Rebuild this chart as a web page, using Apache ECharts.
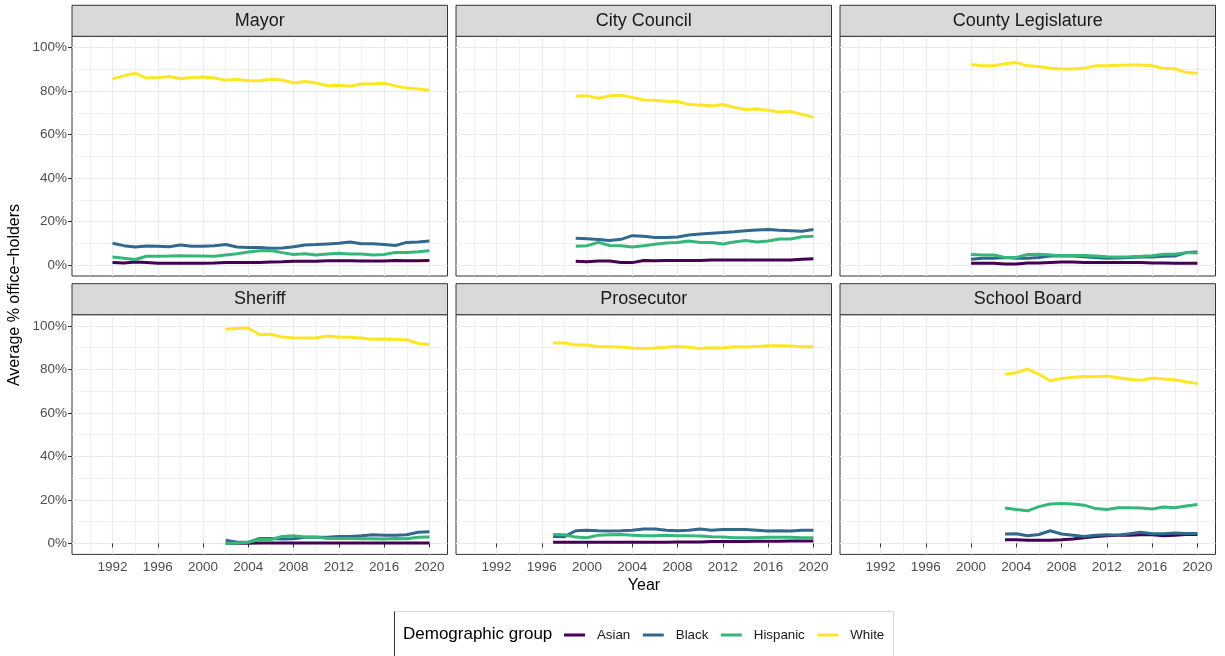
<!DOCTYPE html>
<html>
<head>
<meta charset="utf-8">
<title>Average % office-holders by demographic group</title>
<script src="https://cdn.jsdelivr.net/npm/echarts@6/dist/echarts.min.js"></script>
<style>
  html, body { margin: 0; padding: 0; background: #ffffff; }
  #chart { width: 1225px; height: 656px; }
</style>
</head>
<body>
<div id="chart"></div>
<script>
// ---- Data: average share of office-holders (%) by year ----
const offices = ['Mayor', 'City Council', 'County Legislature', 'Sheriff', 'Prosecutor', 'School Board'];
const groups = ['Asian', 'Black', 'Hispanic', 'White'];
const firstYear = { 'Mayor': 1992, 'City Council': 1999, 'County Legislature': 2000, 'Sheriff': 2002, 'Prosecutor': 1997, 'School Board': 2003 };
const lastYear = 2020;

const mayorAsian    = [1.1, 0.9, 1.4, 1.1, 0.8, 0.8, 0.8, 0.8, 0.8, 0.9, 1.1, 1.1, 1.1, 1.2, 1.4, 1.5, 1.7, 1.7, 1.7, 2.0, 2.0, 2.0, 1.8, 1.8, 1.8, 2.1, 2.0, 2.0, 2.1];
const mayorBlack    = [10.0, 8.9, 8.3, 8.7, 8.6, 8.4, 9.2, 8.6, 8.6, 8.9, 9.4, 8.3, 8.1, 8.0, 7.7, 7.8, 8.4, 9.2, 9.4, 9.7, 10.0, 10.6, 9.8, 9.8, 9.4, 9.0, 10.4, 10.6, 11.0];
const mayorHispanic = [3.7, 3.1, 2.5, 4.0, 4.0, 4.1, 4.3, 4.1, 4.1, 4.0, 4.6, 5.2, 6.0, 6.6, 6.7, 5.7, 4.8, 5.2, 4.6, 5.1, 5.4, 5.1, 5.1, 4.6, 4.8, 5.8, 5.7, 6.1, 6.6];
const mayorWhite    = [85.6, 87.0, 88.2, 86.0, 86.3, 86.7, 85.7, 86.3, 86.5, 86.0, 85.0, 85.4, 84.7, 84.8, 85.4, 85.1, 83.7, 84.4, 83.7, 82.5, 82.7, 82.2, 83.3, 83.4, 83.6, 82.4, 81.4, 81.0, 80.4];

const councilAsian    = [1.7, 1.5, 1.8, 1.8, 1.1, 1.1, 2.1, 2.0, 2.1, 2.1, 2.1, 2.1, 2.3, 2.3, 2.3, 2.3, 2.3, 2.3, 2.3, 2.3, 2.6, 2.9];
const councilBlack    = [12.3, 12.1, 11.7, 11.3, 11.8, 13.5, 13.2, 12.7, 12.6, 12.9, 13.8, 14.3, 14.6, 14.9, 15.3, 15.8, 16.1, 16.3, 16.0, 15.8, 15.5, 16.3];
const councilHispanic = [8.6, 8.9, 10.4, 9.0, 8.9, 8.3, 8.9, 9.5, 10.1, 10.4, 11.0, 10.4, 10.4, 9.7, 10.6, 11.3, 10.6, 11.0, 12.0, 12.0, 13.0, 13.2];
const councilWhite    = [77.6, 77.9, 76.7, 77.8, 78.1, 77.1, 75.9, 75.8, 75.3, 75.2, 73.8, 73.6, 73.2, 73.8, 72.5, 71.5, 71.8, 71.2, 70.4, 70.6, 69.3, 67.9];

const countyAsian    = [0.8, 0.8, 0.8, 0.5, 0.5, 0.9, 0.9, 1.2, 1.4, 1.4, 1.2, 1.1, 1.1, 1.1, 1.1, 1.1, 0.9, 0.9, 0.8, 0.8, 0.8];
const countyBlack    = [2.6, 3.1, 3.1, 3.5, 3.1, 3.1, 3.4, 4.1, 4.3, 4.1, 3.8, 3.5, 3.1, 3.2, 3.5, 3.7, 3.7, 4.0, 4.1, 5.7, 6.0];
const countyHispanic = [4.8, 4.6, 4.6, 3.5, 3.5, 4.8, 4.9, 4.6, 4.3, 4.4, 4.4, 4.1, 3.8, 3.7, 3.8, 4.0, 4.3, 4.9, 4.9, 5.7, 5.5];
const countyWhite    = [92.2, 91.7, 91.7, 92.6, 93.1, 91.6, 91.3, 90.5, 90.2, 90.2, 90.5, 91.6, 91.6, 91.9, 92.0, 92.0, 91.6, 90.5, 90.3, 88.5, 88.2];

const sheriffAsian    = [0.1, 0.1, 0.1, 0.2, 0.2, 0.2, 0.2, 0.2, 0.2, 0.2, 0.2, 0.2, 0.2, 0.2, 0.2, 0.2, 0.2, 0.2, 0.2];
const sheriffBlack    = [1.5, 0.5, 0.5, 2.3, 2.3, 2.0, 2.1, 2.8, 2.8, 2.8, 3.2, 3.2, 3.5, 4.0, 3.8, 3.7, 4.0, 5.1, 5.4];
const sheriffHispanic = [0.0, 0.2, 0.5, 1.8, 1.8, 3.2, 3.5, 2.9, 2.9, 2.3, 2.3, 2.3, 2.1, 2.1, 2.0, 2.3, 2.1, 2.8, 2.9];
const sheriffWhite    = [98.5, 98.9, 99.1, 96.0, 96.2, 94.9, 94.6, 94.5, 94.6, 95.4, 94.9, 94.8, 94.5, 93.9, 94.0, 93.9, 93.7, 92.0, 91.4];

const prosecutorAsian    = [0.5, 0.5, 0.5, 0.5, 0.5, 0.5, 0.5, 0.5, 0.5, 0.5, 0.5, 0.6, 0.6, 0.6, 0.9, 0.9, 0.9, 0.9, 1.0, 1.0, 1.0, 1.1, 1.1, 1.1];
const prosecutorBlack    = [3.2, 3.1, 5.8, 6.1, 5.8, 5.7, 5.8, 6.1, 6.6, 6.6, 6.1, 5.8, 6.0, 6.6, 6.1, 6.4, 6.4, 6.4, 6.1, 5.7, 5.8, 5.7, 6.1, 6.1];
const prosecutorHispanic = [4.1, 4.0, 2.9, 2.6, 3.8, 4.0, 4.1, 3.8, 3.5, 3.5, 3.7, 3.5, 3.5, 3.4, 3.1, 2.9, 2.6, 2.6, 2.6, 2.8, 2.8, 2.8, 2.6, 2.6];
const prosecutorWhite    = [92.2, 92.2, 91.3, 91.3, 90.5, 90.5, 90.3, 89.9, 89.7, 89.9, 90.2, 90.6, 90.2, 89.6, 90.0, 89.9, 90.5, 90.3, 90.6, 90.9, 90.9, 90.8, 90.5, 90.5];

const schoolAsian    = [1.7, 1.7, 1.5, 1.4, 1.5, 1.7, 2.0, 2.6, 3.2, 3.5, 3.7, 3.8, 4.0, 4.0, 3.5, 3.7, 4.1, 4.1];
const schoolBlack    = [4.3, 4.4, 3.5, 4.1, 5.8, 4.3, 3.8, 3.2, 3.8, 4.0, 3.8, 4.4, 5.1, 4.4, 4.4, 4.8, 4.6, 4.6];
const schoolHispanic = [16.3, 15.6, 15.0, 16.9, 18.1, 18.4, 18.1, 17.6, 16.0, 15.6, 16.4, 16.4, 16.3, 15.8, 16.7, 16.4, 17.2, 17.9];
const schoolWhite    = [77.8, 78.5, 80.2, 77.8, 74.8, 75.9, 76.4, 76.8, 76.7, 77.0, 76.2, 75.5, 75.0, 76.1, 75.6, 75.3, 74.4, 73.6];

const xTickLabels = [1992, 1996, 2000, 2004, 2008, 2012, 2016, 2020];
const xMinorBreaks = [1990, 1994, 1998, 2002, 2006, 2010, 2014, 2018];
const yTickLabels = [0, 20, 40, 60, 80, 100];
const yMinorBreaks = [10, 30, 50, 70, 90];

const seriesByOffice = {
  'Mayor':              [mayorAsian, mayorBlack, mayorHispanic, mayorWhite],
  'City Council':       [councilAsian, councilBlack, councilHispanic, councilWhite],
  'County Legislature': [countyAsian, countyBlack, countyHispanic, countyWhite],
  'Sheriff':            [sheriffAsian, sheriffBlack, sheriffHispanic, sheriffWhite],
  'Prosecutor':         [prosecutorAsian, prosecutorBlack, prosecutorHispanic, prosecutorWhite],
  'School Board':       [schoolAsian, schoolBlack, schoolHispanic, schoolWhite]
};

// viridis palette, one colour per group
const groupColors = ['#440154', '#31688E', '#35B779', '#FDE725'];

// ---- Facet layout (3 columns x 2 rows) ----
const colLeft = [72, 456, 840];
const panelWidth = 375.5;
const rowTop = [36.3, 314.7];
const panelHeight = 239.7;
const stripHeight = 31;
const xRange = [1988.42, 2021.6];
const yRange = [-5.06, 105.2];

const textColor = '#4D4D4D';
const borderColor = '#333333';
const gridColor = '#EBEBEB';
const fontFamily = '"Liberation Sans", Arial, sans-serif';

const grids = [], xAxes = [], yAxes = [], series = [], graphics = [];

offices.forEach((office, i) => {
  const col = i % 3, row = Math.floor(i / 3);
  const left = colLeft[col], top = rowTop[row];
  grids.push({ left: left, top: top, width: panelWidth, height: panelHeight,
               show: true, borderColor: borderColor, borderWidth: 1, backgroundColor: 'transparent', containLabel: false });

  const showX = row === 1, showY = col === 0;

  // major x breaks: labels, ticks and grid lines
  xAxes.push({
    type: 'value', gridIndex: i, min: xRange[0], max: xRange[1], z: 1,
    axisLine: { show: false },
    axisTick: { show: showX, length: 4, lineStyle: { color: borderColor, width: 1 }, customValues: xTickLabels },
    axisLabel: { show: showX, customValues: xTickLabels, color: textColor, fontSize: 13.5, fontFamily: fontFamily, margin: 6, formatter: v => String(v) },
    splitLine: { show: true, lineStyle: { color: gridColor, width: 1.2 } }
  });
  // minor x breaks: grid lines only
  xAxes.push({
    type: 'value', gridIndex: i, min: xRange[0], max: xRange[1], z: 0,
    axisLine: { show: false },
    axisTick: { show: false, customValues: xMinorBreaks },
    axisLabel: { show: false, customValues: xMinorBreaks },
    splitLine: { show: true, lineStyle: { color: gridColor, width: 0.7 } }
  });
  // major y breaks
  yAxes.push({
    type: 'value', gridIndex: i, min: yRange[0], max: yRange[1], z: 1,
    axisLine: { show: false },
    axisTick: { show: showY, length: 4, lineStyle: { color: borderColor, width: 1 }, customValues: yTickLabels },
    axisLabel: { show: showY, customValues: yTickLabels, color: textColor, fontSize: 13.5, fontFamily: fontFamily, margin: 5, formatter: v => v + '%' },
    splitLine: { show: true, lineStyle: { color: gridColor, width: 1.2 } }
  });
  // minor y breaks
  yAxes.push({
    type: 'value', gridIndex: i, min: yRange[0], max: yRange[1], z: 0,
    axisLine: { show: false },
    axisTick: { show: false, customValues: yMinorBreaks },
    axisLabel: { show: false, customValues: yMinorBreaks },
    splitLine: { show: true, lineStyle: { color: gridColor, width: 0.7 } }
  });

  const values = seriesByOffice[office];
  groups.forEach((g, k) => {
    const data = values[k].map((v, j) => [firstYear[office] + j, v]);
    series.push({
      type: 'line', name: g, data: data,
      xAxisIndex: 2 * i, yAxisIndex: 2 * i,
      showSymbol: false, symbol: 'none', smooth: false,
      lineStyle: { color: groupColors[k], width: 3 },
      itemStyle: { color: groupColors[k] },
      z: 3 + k, animation: false, silent: true
    });
  });

  // facet strip
  graphics.push({
    type: 'rect', shape: { x: left, y: top - stripHeight, width: panelWidth, height: stripHeight },
    style: { fill: '#D9D9D9', stroke: borderColor, lineWidth: 1 }, z: 10
  });
  graphics.push({
    type: 'text', x: left + panelWidth / 2, y: top - stripHeight / 2,
    style: { text: office, fill: '#1A1A1A', font: '18px ' + fontFamily, textAlign: 'center', textVerticalAlign: 'middle' }, z: 11
  });
});

// axis titles
graphics.push({
  type: 'text', x: 644, y: 586,
  style: { text: 'Year', fill: '#000000', font: '16px ' + fontFamily, textAlign: 'center', textVerticalAlign: 'middle' }, z: 11
});
graphics.push({
  type: 'text', x: 15, y: 295, rotation: Math.PI / 2,
  style: { text: 'Average % office\u2212holders', fill: '#000000', font: '16px ' + fontFamily, textAlign: 'center', textVerticalAlign: 'middle' }, z: 11
});

// legend box and title
graphics.push({
  type: 'rect', shape: { x: 394.5, y: 611.5, width: 499, height: 60 },
  style: { fill: '#ffffff', stroke: '#D9D9D9', lineWidth: 1 }, z: 0
});
graphics.push({
  type: 'line', shape: { x1: 394.5, y1: 611.5, x2: 394.5, y2: 672 },
  style: { stroke: '#333333', lineWidth: 1 }, z: 1
});
graphics.push({
  type: 'text', x: 403, y: 634.5,
  style: { text: 'Demographic group', fill: '#000000', font: '17px ' + fontFamily, textAlign: 'left', textVerticalAlign: 'middle' }, z: 11
});

const chart = echarts.init(document.getElementById('chart'), null, { renderer: 'canvas' });
chart.setOption({
  animation: false,
  backgroundColor: '#ffffff',
  grid: grids,
  xAxis: xAxes,
  yAxis: yAxes,
  series: series,
  legend: {
    data: groups, left: 564, top: 628.5, padding: 0,
    icon: 'rect', itemWidth: 21, itemHeight: 3, itemGap: 12.5,
    selectedMode: false,
    textStyle: { color: '#1A1A1A', fontSize: 13.3, fontFamily: fontFamily, padding: [0, 0, 0, 7] }
  },
  graphic: graphics
});
</script>
</body>
</html>
